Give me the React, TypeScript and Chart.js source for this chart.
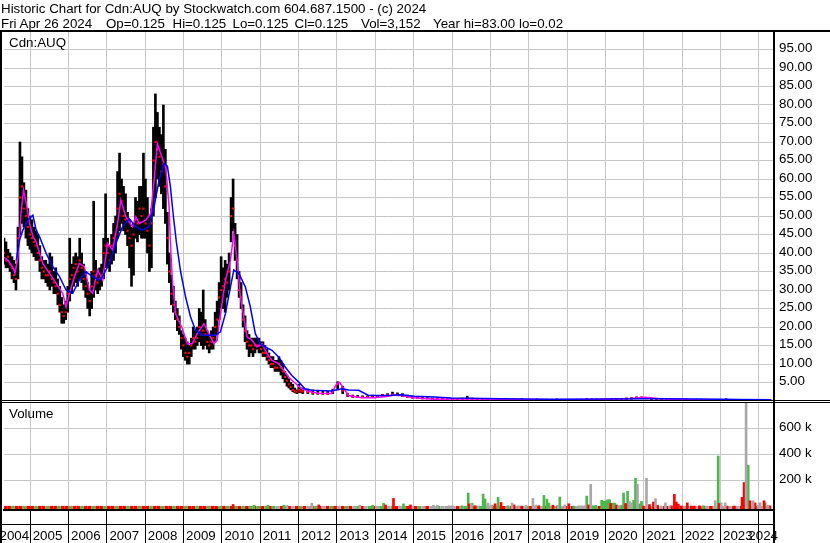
import React, { useEffect, useRef } from 'react';
import { Chart, registerables } from 'chart.js';

Chart.register(...registerables);

// ---------- data ----------
const X_MIN = 2004.317;
const X_MAX = 2024.395;

const yearTicks = [2005, 2006, 2007, 2008, 2009, 2010, 2011, 2012, 2013, 2014, 2015, 2016, 2017, 2018, 2019, 2020, 2021, 2022, 2023, 2024];
const yearLabels = ['2004', '2005', '2006', '2007', '2008', '2009', '2010', '2011', '2012', '2013', '2014', '2015', '2016', '2017', '2018', '2019', '2020', '2021', '2022', '2023', '2024'];
const priceTicks = [5, 10, 15, 20, 25, 30, 35, 40, 45, 50, 55, 60, 65, 70, 75, 80, 85, 90, 95];
const volumeTicks = [200000, 400000, 600000];

// [date (fractional year), low, high, close]
const priceBars: [number, number, number, number][] = [
  [2004.317, 37, 44, 40], [2004.369, 36, 43, 38], [2004.421, 36, 41, 39], [2004.473, 35, 40, 37],
  [2004.525, 33, 39, 36], [2004.577, 32, 38, 34], [2004.629, 30, 37, 33], [2004.681, 33, 47, 44],
  [2004.733, 45, 70, 55], [2004.785, 48, 66, 58], [2004.836, 47, 59, 52], [2004.888, 44, 57, 50],
  [2004.940, 42, 52, 47], [2004.992, 41, 50, 45], [2005.044, 40, 49, 44], [2005.096, 39, 47, 43],
  [2005.148, 38, 46, 42], [2005.200, 38, 45, 40], [2005.252, 35, 42, 38], [2005.304, 33, 39, 36],
  [2005.356, 33, 38, 35], [2005.408, 32, 38, 34], [2005.460, 31, 37, 34], [2005.512, 30, 40, 35],
  [2005.564, 31, 39, 33], [2005.616, 29, 35, 32], [2005.668, 29, 36, 31], [2005.720, 26, 33, 29],
  [2005.772, 24, 31, 26], [2005.823, 21, 28, 24], [2005.875, 21, 26, 23], [2005.927, 22, 27, 24],
  [2005.979, 24, 31, 29], [2006.031, 27, 44, 33], [2006.083, 29, 37, 34], [2006.135, 31, 39, 36],
  [2006.187, 32, 40, 37], [2006.239, 31, 39, 35], [2006.291, 33, 44, 38], [2006.343, 32, 40, 36],
  [2006.395, 30, 37, 33], [2006.447, 28, 35, 31], [2006.499, 25, 32, 29], [2006.551, 23, 30, 27],
  [2006.603, 25, 35, 31], [2006.655, 28, 54, 35], [2006.707, 30, 38, 34], [2006.759, 29, 35, 32],
  [2006.810, 30, 36, 33], [2006.862, 31, 37, 34], [2006.914, 33, 44, 40], [2006.966, 36, 56, 42],
  [2007.018, 36, 44, 40], [2007.070, 35, 42, 38], [2007.122, 37, 45, 42], [2007.174, 38, 48, 44],
  [2007.226, 40, 50, 45], [2007.278, 44, 62, 52], [2007.330, 46, 67, 56], [2007.382, 48, 60, 54],
  [2007.434, 46, 58, 50], [2007.486, 45, 56, 49], [2007.538, 42, 51, 46], [2007.590, 36, 49, 44],
  [2007.642, 31, 47, 42], [2007.694, 34, 48, 45], [2007.746, 44, 55, 49], [2007.797, 43, 54, 48],
  [2007.849, 45, 58, 52], [2007.901, 44, 58, 50], [2007.953, 44, 67, 52], [2008.005, 44, 60, 48],
  [2008.057, 40, 55, 46], [2008.109, 35, 50, 42], [2008.161, 36, 52, 48], [2008.213, 50, 74, 65],
  [2008.265, 55, 83, 70], [2008.317, 60, 78, 68], [2008.369, 58, 74, 66], [2008.421, 56, 72, 62],
  [2008.473, 52, 80, 64], [2008.525, 48, 68, 58], [2008.577, 37, 51, 44], [2008.629, 32, 40, 35],
  [2008.681, 26, 34, 29], [2008.733, 24, 31, 26], [2008.784, 22, 27, 24], [2008.836, 19, 25, 22],
  [2008.888, 18, 23, 20], [2008.940, 14, 19, 17], [2008.992, 12, 18, 15], [2009.044, 11, 17, 13],
  [2009.096, 10, 16, 12], [2009.148, 10, 15, 13], [2009.200, 12, 17, 15], [2009.252, 14, 20, 17],
  [2009.304, 14, 19, 16], [2009.356, 15, 20, 17], [2009.408, 16, 25, 20], [2009.460, 15, 24, 18],
  [2009.512, 14, 30, 19], [2009.564, 15, 22, 18], [2009.616, 14, 19, 16], [2009.668, 13, 18, 15],
  [2009.720, 14, 19, 16], [2009.771, 14, 20, 17], [2009.823, 16, 24, 20], [2009.875, 18, 27, 22],
  [2009.927, 22, 32, 28], [2009.979, 25, 39, 30], [2010.031, 25, 36, 31], [2010.083, 24, 38, 33],
  [2010.135, 28, 37, 32], [2010.187, 30, 40, 35], [2010.239, 43, 55, 50], [2010.291, 46, 60, 52],
  [2010.343, 38, 48, 42], [2010.395, 33, 45, 38], [2010.447, 28, 35, 30], [2010.499, 25, 32, 28],
  [2010.551, 20, 26, 22], [2010.603, 16, 23, 19], [2010.655, 14, 19, 16], [2010.707, 12, 18, 15],
  [2010.758, 13, 17, 15], [2010.810, 12, 17, 14], [2010.862, 13, 17, 15], [2010.914, 14, 17, 15],
  [2010.966, 13, 17, 15], [2011.018, 13, 16, 14], [2011.070, 12, 16, 13], [2011.122, 12, 15, 13],
  [2011.174, 11, 14, 12], [2011.226, 10, 13, 11], [2011.278, 9, 12, 10], [2011.330, 9, 12, 10],
  [2011.382, 8, 11, 9], [2011.434, 8, 11, 9], [2011.486, 8, 12, 10], [2011.538, 7, 11, 9],
  [2011.590, 6, 10, 8], [2011.642, 5, 8, 6.5], [2011.694, 4, 7, 5.5], [2011.745, 3.5, 6, 4.5],
  [2011.797, 3, 5, 3.8], [2011.849, 2.5, 4.5, 3], [2011.901, 2.2, 3.5, 2.6], [2011.953, 2, 3, 2.5],
  [2012.005, 2.3, 4.5, 3], [2012.057, 2.2, 3.5, 2.6],
  [2012.109, 2, 3.5, 2.6], [2012.239, 2, 3.2, 2.4], [2012.369, 1.8, 3, 2.2], [2012.499, 1.8, 2.8, 2.1],
  [2012.629, 1.8, 2.6, 2.0], [2012.758, 1.8, 2.6, 2.0], [2012.888, 2, 3.2, 2.5], [2013.018, 3, 5.2, 4.5],
  [2013.148, 2, 4, 2.8], [2013.278, 1.2, 2, 1.5], [2013.408, 1, 1.6, 1.2], [2013.538, 1, 1.5, 1.1],
  [2013.667, 1, 1.4, 1.1], [2013.797, 1, 1.4, 1.1], [2013.927, 1, 1.6, 1.2], [2014.057, 1, 1.5, 1.2],
  [2014.187, 1.2, 1.8, 1.5], [2014.317, 1.3, 2, 1.6], [2014.447, 1.5, 2.4, 1.8], [2014.576, 1.4, 2.2, 1.7],
  [2014.706, 1.2, 2, 1.5], [2014.836, 1, 1.6, 1.2], [2014.966, 0.8, 1.2, 0.9], [2015.096, 0.7, 1.1, 0.8],
  [2015.226, 0.6, 1, 0.7], [2015.356, 0.6, 0.9, 0.7], [2015.486, 0.5, 0.8, 0.6], [2015.616, 0.5, 0.8, 0.6],
  [2015.745, 0.5, 0.7, 0.55], [2015.875, 0.5, 0.8, 0.6], [2016.005, 0.4, 0.7, 0.5], [2016.135, 0.4, 0.7, 0.5],
  [2016.265, 0.4, 0.8, 0.5], [2016.395, 0.4, 1.3, 0.6], [2016.525, 0.4, 0.8, 0.5], [2016.655, 0.3, 0.6, 0.4],
  [2016.785, 0.3, 0.6, 0.4], [2016.914, 0.3, 0.5, 0.4], [2017.044, 0.3, 0.5, 0.35], [2017.174, 0.25, 0.45, 0.3],
  [2017.304, 0.2, 0.4, 0.3], [2017.434, 0.2, 0.4, 0.3], [2017.564, 0.2, 0.4, 0.3], [2017.694, 0.2, 0.4, 0.3],
  [2017.823, 0.3, 0.6, 0.4], [2017.953, 0.2, 0.4, 0.3], [2018.083, 0.2, 0.4, 0.3], [2018.213, 0.3, 0.5, 0.4],
  [2018.343, 0.2, 0.4, 0.3], [2018.473, 0.2, 0.4, 0.3], [2018.603, 0.2, 0.4, 0.3], [2018.732, 0.3, 0.5, 0.4],
  [2018.862, 0.2, 0.4, 0.3], [2018.992, 0.2, 0.35, 0.25], [2019.122, 0.2, 0.35, 0.25], [2019.252, 0.2, 0.4, 0.3],
  [2019.382, 0.2, 0.4, 0.3], [2019.512, 0.3, 0.6, 0.4], [2019.641, 0.3, 0.5, 0.4], [2019.771, 0.3, 0.5, 0.4],
  [2019.901, 0.3, 0.5, 0.4], [2020.031, 0.3, 0.5, 0.4], [2020.161, 0.3, 0.6, 0.45], [2020.291, 0.3, 0.6, 0.45],
  [2020.421, 0.4, 0.7, 0.5], [2020.551, 0.4, 0.8, 0.6], [2020.680, 0.5, 0.9, 0.7], [2020.810, 0.6, 1.1, 0.9],
  [2020.940, 0.6, 1.1, 0.9], [2021.070, 0.6, 1.0, 0.8], [2021.200, 0.4, 0.8, 0.5], [2021.330, 0.4, 0.7, 0.5],
  [2021.460, 0.3, 0.6, 0.4], [2021.589, 0.3, 0.5, 0.35], [2021.719, 0.3, 0.5, 0.35], [2021.849, 0.3, 0.5, 0.35],
  [2021.979, 0.2, 0.4, 0.3], [2022.109, 0.2, 0.4, 0.3], [2022.239, 0.2, 0.35, 0.25], [2022.369, 0.2, 0.35, 0.25],
  [2022.499, 0.15, 0.3, 0.2], [2022.628, 0.15, 0.3, 0.2], [2022.758, 0.12, 0.25, 0.18], [2022.888, 0.12, 0.25, 0.18],
  [2023.018, 0.15, 0.4, 0.2], [2023.148, 0.2, 0.6, 0.3], [2023.278, 0.15, 0.3, 0.2], [2023.408, 0.12, 0.25, 0.15],
  [2023.537, 0.1, 0.2, 0.15], [2023.667, 0.1, 0.2, 0.12], [2023.797, 0.1, 0.2, 0.12], [2023.927, 0.1, 0.18, 0.12],
  [2024.057, 0.1, 0.18, 0.12], [2024.187, 0.1, 0.15, 0.12], [2024.317, 0.12, 0.13, 0.125],
];

// short moving average (magenta): [date, value]
const magentaLine: [number, number][] = [
  [2004.291, 39], [2004.421, 38], [2004.551, 36], [2004.603, 34.5], [2004.681, 39], [2004.759, 50.7],
  [2004.829, 57], [2004.896, 53.4], [2004.985, 48], [2005.070, 44.4], [2005.156, 43], [2005.244, 39.9],
  [2005.330, 37.2], [2005.504, 34.5], [2005.675, 31.8], [2005.849, 29.1], [2005.935, 25.4], [2006.023, 29.1],
  [2006.153, 33.6], [2006.283, 37.2], [2006.413, 36.3], [2006.543, 30], [2006.629, 29.1], [2006.759, 35.4],
  [2006.888, 32.7], [2007.018, 42.6], [2007.148, 40.8], [2007.278, 48], [2007.364, 54.3], [2007.494, 49.8],
  [2007.668, 47.1], [2007.753, 49.8], [2007.842, 48], [2008.013, 48.9], [2008.143, 50.7], [2008.231, 59.7],
  [2008.317, 69.6], [2008.403, 66.9], [2008.491, 64.2], [2008.533, 63.3], [2008.621, 52.5], [2008.662, 41.7],
  [2008.707, 32.6], [2008.792, 23.6], [2008.966, 19.6], [2009.096, 15.5], [2009.226, 15.5], [2009.356, 18.2],
  [2009.530, 20.9], [2009.616, 19.1], [2009.790, 15.5], [2009.875, 16.4], [2009.961, 23.6], [2010.091, 32.6],
  [2010.221, 38], [2010.309, 45.3], [2010.395, 38], [2010.481, 28.1], [2010.569, 22.7], [2010.655, 17.3],
  [2010.785, 16.4], [2010.914, 14.6], [2011.044, 15.5], [2011.174, 12.8], [2011.304, 11], [2011.478, 10.1],
  [2011.608, 8.3], [2011.738, 6.5], [2011.823, 5.6], [2012.083, 3.3], [2012.343, 2.4], [2012.525, 2.1],
  [2012.862, 2.0], [2012.992, 4.7], [2013.070, 5.0], [2013.148, 3.8], [2013.304, 1.5], [2013.642, 0.9],
  [2013.979, 0.9], [2014.343, 1.3], [2014.499, 1.6], [2014.681, 1.5], [2015.018, 0.9], [2015.538, 0.5],
  [2016.395, 0.6], [2017.278, 0.4], [2018.577, 0.35], [2019.875, 0.4], [2020.654, 0.7], [2021.044, 1.0],
  [2021.434, 0.6], [2022.473, 0.3], [2023.511, 0.25], [2024.317, 0.15],
];

// long moving average (blue): [date, value]
const blueLine: [number, number][] = [
  [2004.636, 38], [2004.725, 43.5], [2004.810, 46.2], [2004.940, 48.9], [2005.070, 50.2], [2005.156, 46.2],
  [2005.244, 44.4], [2005.416, 39.9], [2005.590, 36.3], [2005.764, 33.6], [2005.935, 30], [2006.109, 29.1],
  [2006.283, 32.7], [2006.455, 34.9], [2006.629, 33.6], [2006.803, 32.7], [2006.888, 33.6], [2007.062, 37.2],
  [2007.234, 42.6], [2007.408, 47.1], [2007.582, 49.3], [2007.753, 47.1], [2007.927, 46.2], [2008.101, 47.1],
  [2008.231, 52.5], [2008.361, 59.7], [2008.491, 64.2], [2008.577, 63.5], [2008.655, 58], [2008.733, 50],
  [2008.811, 43], [2008.922, 35], [2009.052, 28.1], [2009.182, 22.7], [2009.312, 19.1], [2009.486, 17.8],
  [2009.831, 17.8], [2009.961, 18.7], [2010.091, 23.6], [2010.221, 30.8], [2010.309, 35.4], [2010.439, 34.5],
  [2010.611, 30.8], [2010.741, 25.4], [2010.870, 18.2], [2011.000, 15.5], [2011.130, 14.6], [2011.304, 13.7],
  [2011.478, 11.9], [2011.650, 9.2], [2011.823, 6.9], [2012.005, 5.1], [2012.161, 3.3], [2012.343, 2.9],
  [2012.862, 2.7], [2013.122, 3.3], [2013.304, 3.0], [2013.564, 2.9], [2013.823, 1.5], [2014.343, 1.5],
  [2014.681, 1.7], [2015.018, 1.3], [2015.538, 1.1], [2015.979, 0.8], [2017.278, 0.6], [2018.577, 0.45],
  [2019.875, 0.55], [2021.174, 0.6], [2022.473, 0.55], [2023.511, 0.4], [2024.317, 0.35],
];

// low-volume background strip: [date, volume (thousands), colour code]
const volumeStrip: [number, number, string][] = [
  [2004.35, 2, 'r'], [2004.45, 2, 'r'], [2004.55, 2, 'g'], [2004.65, 2, 'r'], [2004.75, 2, 'r'], [2004.85, 1.5, 'g'], [2004.95, 2, 'r'],
  [2005.05, 2, 'r'], [2005.15, 2, 'g'], [2005.25, 2, 'r'], [2005.35, 2, 'r'], [2005.45, 1.5, 'g'], [2005.55, 2, 'r'], [2005.65, 2, 'r'], [2005.75, 2, 'g'], [2005.85, 2, 'r'], [2005.95, 2, 'r'],
  [2006.05, 2, 'g'], [2006.15, 2, 'r'], [2006.25, 2, 'r'], [2006.35, 1.5, 'g'], [2006.45, 2, 'r'], [2006.55, 2, 'r'], [2006.65, 2, 'g'], [2006.75, 2, 'r'], [2006.85, 2, 'r'], [2006.95, 1.5, 'g'],
  [2007.05, 2, 'r'], [2007.15, 2, 'r'], [2007.25, 2, 'g'], [2007.35, 2, 'r'], [2007.45, 2, 'r'], [2007.55, 1.5, 'g'], [2007.65, 2, 'r'], [2007.75, 2, 'r'], [2007.85, 2, 'g'], [2007.95, 2, 'r'],
  [2008.05, 2, 'r'], [2008.15, 2, 'g'], [2008.25, 2, 'r'], [2008.35, 2, 'r'], [2008.45, 1.5, 'g'], [2008.55, 2, 'r'], [2008.65, 2, 'r'], [2008.75, 2, 'g'], [2008.85, 2, 'r'], [2008.95, 1.5, 'r'],
  [2009.05, 2, 'g'], [2009.15, 2, 'r'], [2009.25, 1.5, 'r'], [2009.35, 2, 'g'], [2009.45, 2, 'r'], [2009.55, 1.5, 'r'], [2009.65, 2, 'g'], [2009.75, 2, 'r'], [2009.85, 1.5, 'r'], [2009.95, 1.5, 'g'],
  [2010.05, 2, 'r'], [2010.15, 2, 'g'], [2010.25, 1.5, 'r'], [2010.35, 2, 'g'], [2010.45, 1.5, 'r'], [2010.55, 2, 'g'], [2010.65, 1.5, 'r'], [2010.75, 1.5, 'g'], [2010.85, 2, 'r'], [2010.95, 1.5, 'g'],
  [2011.05, 1.5, 'r'], [2011.15, 2, 'g'], [2011.25, 1.5, 'r'], [2011.35, 1.5, 'g'], [2011.45, 1.5, 'k'], [2011.55, 1.5, 'r'], [2011.65, 1.5, 'g'], [2011.75, 1.5, 'r'], [2011.85, 1.5, 'k'], [2011.95, 1.5, 'r'],
  [2012.05, 1.5, 'g'], [2012.15, 1.5, 'r'], [2012.25, 1.5, 'k'], [2012.35, 1.5, 'r'], [2012.45, 1.5, 'g'], [2012.55, 1.5, 'r'], [2012.65, 1.5, 'k'], [2012.75, 1.5, 'r'], [2012.85, 1.5, 'g'], [2012.95, 1.5, 'r'],
  [2013.05, 1.5, 'k'], [2013.15, 1.5, 'r'], [2013.25, 1.5, 'g'], [2013.35, 1.5, 'r'], [2013.45, 1.5, 'k'], [2013.55, 1.5, 'g'], [2013.65, 1.5, 'r'], [2013.75, 1.5, 'k'], [2013.85, 1.5, 'g'], [2013.95, 1.5, 'r'],
  [2014.05, 1.5, 'k'], [2014.15, 1.5, 'g'], [2014.25, 1.5, 'r'], [2014.35, 1.5, 'k'], [2014.45, 1.5, 'g'], [2014.55, 1.5, 'r'], [2014.65, 1.5, 'k'], [2014.75, 1.5, 'g'], [2014.85, 1.5, 'r'], [2014.95, 1.5, 'k'],
  [2015.05, 1.5, 'r'], [2015.15, 1.5, 'g'], [2015.25, 1.5, 'k'], [2015.35, 1.5, 'r'], [2015.45, 1.5, 'k'], [2015.55, 1.5, 'k'], [2015.65, 1.5, 'g'], [2015.75, 1.5, 'k'], [2015.85, 1.5, 'k'], [2015.95, 1.5, 'k'],
  [2016.05, 1.5, 'k'], [2016.15, 1.5, 'r'], [2016.25, 1.5, 'k'], [2016.35, 1.5, 'g'], [2016.45, 1.5, 'k'], [2016.55, 1.5, 'r'], [2016.65, 1.5, 'k'], [2016.75, 1.5, 'g'], [2016.85, 1.5, 'r'], [2016.95, 1.5, 'k'],
  [2017.05, 1.5, 'r'], [2017.15, 1.5, 'k'], [2017.25, 1.5, 'g'], [2017.35, 1.5, 'r'], [2017.45, 1.5, 'k'], [2017.55, 1.5, 'r'], [2017.65, 1.5, 'k'], [2017.75, 1.5, 'r'], [2017.85, 1.5, 'k'], [2017.95, 1.5, 'g'],
  [2018.05, 1.5, 'r'], [2018.15, 1.5, 'k'], [2018.25, 1.5, 'r'], [2018.35, 1.5, 'k'], [2018.45, 1.5, 'r'], [2018.55, 1.5, 'k'], [2018.65, 1.5, 'g'], [2018.75, 1.5, 'r'], [2018.85, 1.5, 'k'], [2018.95, 1.5, 'r'],
  [2019.05, 1.5, 'k'], [2019.15, 1.5, 'r'], [2019.25, 1.5, 'k'], [2019.35, 1.5, 'k'], [2019.45, 1.5, 'k'], [2019.55, 1.5, 'r'], [2019.65, 1.5, 'k'], [2019.75, 1.5, 'g'], [2019.85, 1.5, 'r'], [2019.95, 1.5, 'k'],
  [2020.05, 1.5, 'r'], [2020.15, 1.5, 'k'], [2020.25, 1.5, 'r'], [2020.35, 1.5, 'g'], [2020.45, 1.5, 'k'], [2020.55, 1.5, 'r'], [2020.65, 1.5, 'k'], [2020.75, 1.5, 'r'], [2020.85, 1.5, 'k'], [2020.95, 1.5, 'r'],
  [2021.05, 1.5, 'k'], [2021.15, 1.5, 'r'], [2021.25, 1.5, 'k'], [2021.35, 1.5, 'r'], [2021.45, 1.5, 'k'], [2021.55, 1.5, 'r'], [2021.65, 1.5, 'r'], [2021.75, 1.5, 'k'], [2021.85, 1.5, 'r'], [2021.95, 1.5, 'k'],
  [2022.05, 1.5, 'r'], [2022.15, 1.5, 'k'], [2022.25, 1.5, 'r'], [2022.35, 1.5, 'k'], [2022.45, 1.5, 'r'], [2022.55, 1.5, 'r'], [2022.65, 1.5, 'k'], [2022.75, 1.5, 'r'], [2022.85, 1.5, 'k'], [2022.95, 1.5, 'r'],
  [2023.05, 1.5, 'k'], [2023.15, 1.5, 'r'], [2023.25, 1.5, 'k'], [2023.35, 1.5, 'r'], [2023.45, 1.5, 'k'], [2023.55, 1.5, 'r'], [2023.65, 1.5, 'k'], [2023.75, 1.5, 'r'], [2023.85, 1.5, 'k'], [2023.95, 1.5, 'r'],
  [2024.05, 1.5, 'k'], [2024.15, 1.5, 'r'], [2024.25, 1.5, 'k'],
];

// notable volume bars: [date, volume (thousands), colour code]
const volumeBars: [number, number, string][] = [
  [2010.291, 15, 'r'], [2010.836, 10, 'g'], [2011.200, 10, 'g'], [2011.616, 10, 'g'], [2011.694, 8, 'k'],
  [2012.343, 25, 'k'], [2012.525, 12, 'r'], [2013.590, 10, 'k'], [2013.927, 10, 'g'], [2014.213, 25, 'g'],
  [2014.265, 12, 'r'], [2014.473, 62, 'r'], [2014.732, 20, 'g'], [2014.914, 12, 'r'], [2015.512, 10, 'k'],
  [2015.616, 10, 'k'], [2015.927, 6, 'k'], [2016.005, 5, 'k'], [2016.265, 5, 'g'], [2016.421, 103, 'g'],
  [2016.447, 20, 'r'], [2016.499, 22, 'k'], [2016.525, 26, 'g'], [2016.603, 6, 'r'], [2016.810, 95, 'g'],
  [2016.862, 57, 'g'], [2016.940, 26, 'k'], [2017.018, 10, 'k'], [2017.044, 10, 'g'], [2017.122, 21, 'r'],
  [2017.200, 70, 'g'], [2017.278, 31, 'r'], [2017.460, 5, 'g'], [2017.564, 26, 'k'], [2017.616, 12, 'r'],
  [2017.745, 5, 'k'], [2017.823, 3, 'r'], [2017.927, 8, 'k'], [2018.109, 62, 'k'], [2018.187, 10, 'k'],
  [2018.265, 6, 'r'], [2018.395, 85, 'g'], [2018.473, 57, 'g'], [2018.525, 26, 'g'], [2018.629, 10, 'r'],
  [2018.758, 10, 'k'], [2018.810, 73, 'g'], [2018.940, 12, 'k'], [2019.044, 21, 'r'], [2019.174, 3, 'g'],
  [2019.304, 5, 'k'], [2019.382, 5, 'k'], [2019.460, 5, 'k'], [2019.512, 80, 'g'], [2019.564, 12, 'r'],
  [2019.616, 171, 'k'], [2019.668, 6, 'g'], [2019.745, 8, 'g'], [2019.901, 48, 'g'], [2019.953, 40, 'g'],
  [2020.005, 40, 'g'], [2020.057, 52, 'g'], [2020.109, 52, 'g'], [2020.135, 23, 'r'], [2020.187, 26, 'g'],
  [2020.239, 26, 'g'], [2020.291, 12, 'r'], [2020.343, 8, 'k'], [2020.421, 10, 'g'], [2020.473, 103, 'g'],
  [2020.525, 23, 'r'], [2020.577, 117, 'g'], [2020.629, 38, 'k'], [2020.680, 28, 'k'], [2020.732, 47, 'g'],
  [2020.784, 217, 'g'], [2020.836, 171, 'k'], [2020.888, 20, 'g'], [2020.940, 39, 'g'], [2020.992, 3, 'r'],
  [2021.070, 217, 'k'], [2021.148, 15, 'r'], [2021.252, 34, 'r'], [2021.304, 60, 'k'], [2021.356, 10, 'r'],
  [2021.460, 3, 'k'], [2021.564, 28, 'k'], [2021.667, 3, 'k'], [2021.719, 5, 'r'], [2021.797, 93, 'r'],
  [2021.849, 34, 'r'], [2021.901, 18, 'r'], [2021.979, 3, 'r'], [2022.057, 3, 'k'], [2022.135, 28, 'r'],
  [2022.239, 3, 'r'], [2022.317, 3, 'r'], [2022.447, 5, 'r'], [2022.550, 5, 'g'], [2022.628, 3, 'k'],
  [2022.862, 44, 'k'], [2022.940, 388, 'g'], [2022.966, 23, 'r'], [2023.018, 28, 'k'], [2023.122, 28, 'k'],
  [2023.174, 3, 'r'], [2023.356, 3, 'r'], [2023.563, 70, 'r'], [2023.615, 184, 'r'], [2023.667, 800, 'k'],
  [2023.722, 318, 'g'], [2023.770, 44, 'r'], [2023.849, 44, 'k'], [2023.901, 28, 'r'], [2023.979, 10, 'k'],
  [2024.031, 28, 'k'], [2024.135, 44, 'r'], [2024.161, 28, 'g'], [2024.239, 10, 'k'], [2024.291, 5, 'r'],
];

// ---------- style ----------
const FONT = '"Liberation Sans", Arial, Helvetica, sans-serif';
const GRID = '#c8c8c8';
const VOL_COLORS: Record<string, string> = { g: '#4cb84c', r: '#ff0000', k: '#a8a8a8' };
const VOL_MIN = -27000;

Chart.defaults.font.family = FONT;

const framePlugin = {
  id: 'frame',
  afterDraw(chart: any) {
    const { ctx, chartArea: a, scales } = chart;
    const W = chart.width;
    const H = chart.height;
    const sep = scales.y.bottom;
    ctx.save();
    ctx.fillStyle = '#000';
    ctx.fillRect(0, a.top - 1, W, 2);
    ctx.fillRect(0, a.top - 1, 2, H - a.top + 1);
    ctx.fillRect(0, Math.round(sep) - 1, W, 1);
    ctx.fillRect(0, Math.round(sep) + 1, W, 1);
    ctx.fillRect(a.right - 1, a.bottom, 2, H - a.bottom);
    ctx.fillRect(0, a.bottom + 14, a.right, 1);
    ctx.restore();
  },
};

const yearLabelPlugin = {
  id: 'yearLabels',
  afterDraw(chart: any) {
    const { ctx, chartArea: a, scales } = chart;
    const xs = scales.x;
    ctx.save();
    ctx.font = `13.33px ${FONT}`;
    ctx.fillStyle = '#000';
    ctx.textAlign = 'left';
    ctx.textBaseline = 'alphabetic';
    yearLabels.forEach((label) => {
      const yr = Number(label);
      const w = ctx.measureText(label).width;
      let x = xs.getPixelForValue(yr) + 2.5;
      if (x < a.left) x = xs.getPixelForValue(yr + 1) - 1 - w;
      if (x + w > a.right + 4) x = a.right + 4 - w;
      ctx.fillText(label, x, a.bottom + 30);
    });
    ctx.restore();
  },
};

function volumeDataset(rows: [number, number, string][], code: string, thickness: number, order: number) {
  return {
    type: 'bar' as const,
    yAxisID: 'yv',
    stack: 'all',
    order,
    base: VOL_MIN,
    barThickness: thickness,
    backgroundColor: VOL_COLORS[code],
    borderWidth: 0,
    data: rows.filter((r) => r[2] === code).map((r) => ({ x: r[0], y: r[1] * 1000 })),
  };
}

export default function App() {
  const ref = useRef<HTMLCanvasElement>(null);

  useEffect(() => {
    document.body.style.margin = '0';
    const canvas = ref.current;
    if (!canvas) return;

    const datasets: any[] = [
      {
        type: 'line',
        label: 'long MA',
        yAxisID: 'y',
        order: 0,
        data: blueLine.map(([x, y]) => ({ x, y })),
        borderColor: '#0000ff',
        borderWidth: 1.5,
        pointRadius: 0,
        tension: 0,
      },
      {
        type: 'line',
        label: 'short MA',
        yAxisID: 'y',
        order: 1,
        data: magentaLine.map(([x, y]) => ({ x, y })),
        borderColor: '#ff00ff',
        borderWidth: 1.5,
        pointRadius: 0,
        tension: 0,
      },
      {
        type: 'line',
        label: 'close',
        yAxisID: 'y',
        order: 2,
        showLine: false,
        data: priceBars.map((r) => ({ x: r[0], y: r[3] })),
        pointStyle: 'rect',
        pointRadius: 1.5,
        pointBorderWidth: 0,
        pointBackgroundColor: '#ff0000',
        pointBorderColor: '#ff0000',
      },
      {
        type: 'bar',
        label: 'range',
        yAxisID: 'y',
        stack: 'all',
        order: 3,
        barThickness: 2,
        backgroundColor: '#000000',
        borderWidth: 0,
        data: priceBars.map((r) => ({ x: r[0], y: [r[1], r[2]] })),
      },
      volumeDataset(volumeBars, 'k', 2, 4),
      volumeDataset(volumeBars, 'r', 2, 5),
      volumeDataset(volumeBars, 'g', 2, 6),
      volumeDataset(volumeStrip, 'k', 3, 7),
      volumeDataset(volumeStrip, 'r', 3, 8),
      volumeDataset(volumeStrip, 'g', 3, 9),
    ];

    const chart = new Chart(canvas, {
      type: 'bar',
      data: { datasets },
      options: {
        animation: false,
        responsive: false,
        devicePixelRatio: 1,
        events: [],
        layout: { padding: { top: 31, left: 1, right: 0, bottom: 0 } },
        plugins: { legend: { display: false }, tooltip: { enabled: false }, title: { display: false } },
        scales: {
          x: {
            type: 'linear',
            position: 'bottom',
            min: X_MIN,
            max: X_MAX,
            offset: false,
            afterBuildTicks: (s: any) => {
              s.ticks = yearTicks.map((v) => ({ value: v }));
            },
            afterFit: (s: any) => {
              s.height = 33;
            },
            grid: { color: GRID, lineWidth: 1, offset: false, drawTicks: true, tickLength: 33, tickColor: '#000', tickWidth: 1 },
            border: { display: true, color: '#000', width: 2, z: 1 },
            ticks: { display: false },
          },
          y: {
            type: 'linear',
            position: 'right',
            stack: 'panels',
            stackWeight: 370,
            stacked: false,
            min: 0,
            max: 100,
            afterBuildTicks: (s: any) => {
              s.ticks = priceTicks.map((v) => ({ value: v }));
            },
            afterFit: (s: any) => {
              s.width = 56;
            },
            grid: { color: GRID, lineWidth: 1, drawTicks: false },
            border: { display: true, color: '#000', width: 2 },
            ticks: {
              autoSkip: false,
              padding: 5,
              labelOffset: -1,
              color: '#000',
              font: { family: FONT, size: 13.33 },
              callback: (v: any) => Number(v).toFixed(2),
            },
          },
          yv: {
            type: 'linear',
            position: 'right',
            stack: 'panels',
            stackWeight: 109,
            stacked: false,
            min: VOL_MIN,
            max: 811000,
            afterBuildTicks: (s: any) => {
              s.ticks = volumeTicks.map((v) => ({ value: v }));
            },
            afterFit: (s: any) => {
              s.width = 56;
            },
            grid: { color: GRID, lineWidth: 1, drawTicks: false },
            border: { display: true, color: '#000', width: 2 },
            ticks: {
              autoSkip: false,
              padding: 5,
              labelOffset: -1,
              color: '#000',
              font: { family: FONT, size: 13.33 },
              callback: (v: any) => `${Math.round(Number(v) / 1000)} k`,
            },
          },
        },
      } as any,
      plugins: [framePlugin, yearLabelPlugin],
    });

    return () => chart.destroy();
  }, []);

  const text: React.CSSProperties = { position: 'absolute', whiteSpace: 'pre', lineHeight: '15px' };

  return (
    <div
      style={{
        position: 'fixed',
        left: 0,
        top: 0,
        width: 830,
        height: 543,
        overflow: 'hidden',
        background: '#fff',
        color: '#000',
        fontFamily: FONT,
        fontSize: 13.33,
      }}
    >
      <canvas ref={ref} width={830} height={543} style={{ position: 'absolute', left: 0, top: 0, width: 830, height: 543 }} />
      <div style={{ ...text, left: 1, top: 1 }}>Historic Chart for Cdn:AUQ by Stockwatch.com 604.687.1500 - (c) 2024</div>
      <div style={{ ...text, left: 1, top: 15.5 }}>Fri Apr 26 2024</div>
      <div style={{ ...text, left: 106, top: 15.5 }}>Op=0.125</div>
      <div style={{ ...text, left: 172.5, top: 15.5 }}>Hi=0.125</div>
      <div style={{ ...text, left: 232.5, top: 15.5 }}>Lo=0.125</div>
      <div style={{ ...text, left: 294.5, top: 15.5 }}>Cl=0.125</div>
      <div style={{ ...text, left: 361, top: 15.5 }}>Vol=3,152</div>
      <div style={{ ...text, left: 433, top: 15.5 }}>Year hi=83.00</div>
      <div style={{ ...text, left: 519, top: 15.5 }}>lo=0.02</div>
      <div style={{ ...text, left: 9, top: 34.5 }}>Cdn:AUQ</div>
      <div style={{ ...text, left: 9, top: 406 }}>Volume</div>
    </div>
  );
}
